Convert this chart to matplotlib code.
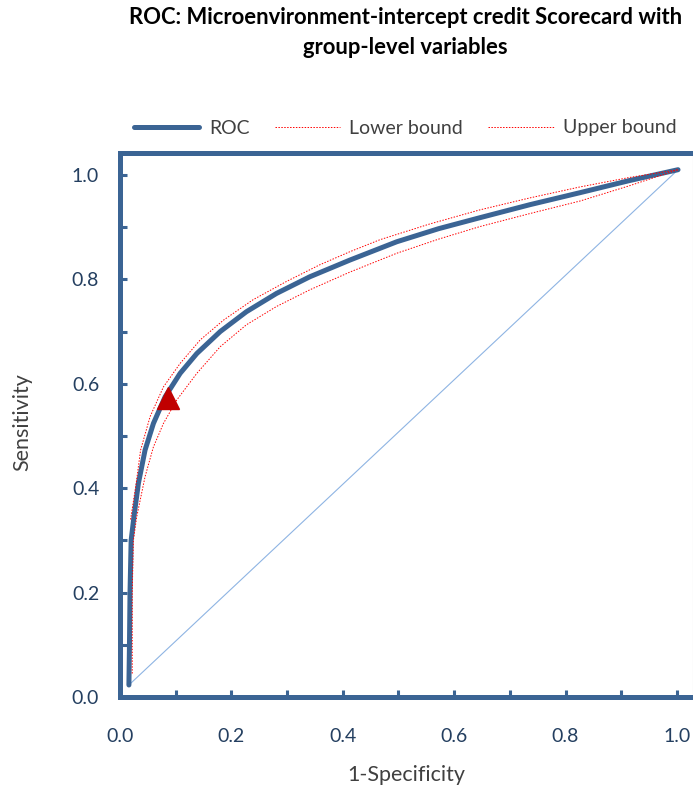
import matplotlib.pyplot as plt
from matplotlib.ticker import MultipleLocator

plt.rcParams['font.family'] = ['Lato', 'DejaVu Sans']

# ROC curve (1-specificity, sensitivity)
roc_x = [0.016, 0.017, 0.018, 0.020, 0.025, 0.033, 0.045, 0.060, 0.081, 0.108,
         0.138, 0.180, 0.227, 0.281, 0.341, 0.413, 0.497, 0.572, 0.646, 0.736,
         0.826, 0.914, 1.002]
roc_y = [0.023, 0.100, 0.200, 0.300, 0.345, 0.409, 0.473, 0.524, 0.575, 0.620,
         0.658, 0.700, 0.738, 0.773, 0.805, 0.837, 0.872, 0.897, 0.918, 0.943,
         0.966, 0.989, 1.010]

lower_x = [0.022, 0.022, 0.024, 0.030, 0.045, 0.060, 0.078, 0.102, 0.138, 0.180,
           0.227, 0.281, 0.341, 0.413, 0.497, 0.572, 0.646, 0.736, 0.826, 0.914,
           1.002]
lower_y = [0.045, 0.200, 0.300, 0.345, 0.422, 0.479, 0.524, 0.569, 0.620, 0.671,
           0.713, 0.748, 0.780, 0.814, 0.850, 0.877, 0.901, 0.926, 0.950, 0.979,
           1.010]

upper_x = [0.019, 0.029, 0.037, 0.054, 0.078, 0.108, 0.144, 0.186, 0.239, 0.299,
           0.359, 0.413, 0.467, 0.556, 0.646, 0.736, 0.826, 0.914, 1.002]
upper_y = [0.340, 0.409, 0.473, 0.537, 0.594, 0.639, 0.684, 0.722, 0.761, 0.796,
           0.828, 0.853, 0.876, 0.906, 0.933, 0.956, 0.977, 0.995, 1.010]

diag_x = [0.016, 1.002]
diag_y = [0.023, 1.010]

cut_x = [0.086]
cut_y = [0.573]

blue = '#3B6494'
tick_col = '#243F60'
text_col = '#404040'

fig = plt.figure(figsize=(6.93, 7.96), dpi=100)
ax = fig.add_axes([120 / 693, 99 / 796, 572.5 / 693, 544 / 796])

ax.plot(diag_x, diag_y, color='#8EB4E3', lw=0.8, zorder=1)
ax.plot(roc_x, roc_y, color=blue, lw=3.6, solid_capstyle='round',
        solid_joinstyle='round', label='ROC', zorder=3)
ax.plot(lower_x, lower_y, color='#FF0000', lw=0.7, ls=(0, (1.5, 1.5)), label='Lower bound', zorder=4)
ax.plot(upper_x, upper_y, color='#FF0000', lw=0.7, ls=(0, (1.5, 1.5)), label='Upper bound', zorder=4)
ax.plot(cut_x, cut_y, marker='^', ms=16, color='#C00000', ls='none', zorder=5)

ax.set_xlim(0, 1.028)
ax.set_ylim(0, 1.042)

for side in ['left', 'bottom', 'top']:
    ax.spines[side].set_color(blue)
    ax.spines[side].set_linewidth(3.6)
ax.spines['right'].set_color('#D9D9D9')
ax.spines['right'].set_linewidth(0.8)

ax.xaxis.set_major_locator(MultipleLocator(0.2))
ax.yaxis.set_major_locator(MultipleLocator(0.2))
ax.xaxis.set_minor_locator(MultipleLocator(0.1))
ax.yaxis.set_minor_locator(MultipleLocator(0.1))
ax.xaxis.set_major_formatter(lambda v, p: f'{v:.1f}')
ax.yaxis.set_major_formatter(lambda v, p: f'{v:.1f}')
ax.tick_params(which='both', direction='in', color=blue, width=2.2, length=5,
               labelcolor=tick_col, labelsize=14)
ax.tick_params(axis='x', which='major', pad=22)
ax.tick_params(axis='y', which='major', pad=15)

ax.set_xlabel('1-Specificity', fontsize=15.5, color=text_col, va='center')
ax.set_ylabel('Sensitivity', fontsize=15.5, color=text_col, va='center')
ax.xaxis.set_label_coords(0.5, -0.143)
ax.yaxis.set_label_coords(-0.171, 0.505)

fig.text(0.585, 1 - 18 / 796, 'ROC: Microenvironment-intercept credit Scorecard with',
         ha='center', va='center', fontsize=15.8, fontweight='bold', color='#000000')
fig.text(0.585, 1 - 48 / 796, 'group-level variables',
         ha='center', va='center', fontsize=15.8, fontweight='bold', color='#000000')

fig.legend(loc='center', bbox_to_anchor=(0.585, 1 - 128 / 796), ncol=3, frameon=False,
           fontsize=14, handlelength=3.35, columnspacing=1.3, handletextpad=0.5,
           labelcolor=text_col)

fig.savefig('out.png', dpi=100)
